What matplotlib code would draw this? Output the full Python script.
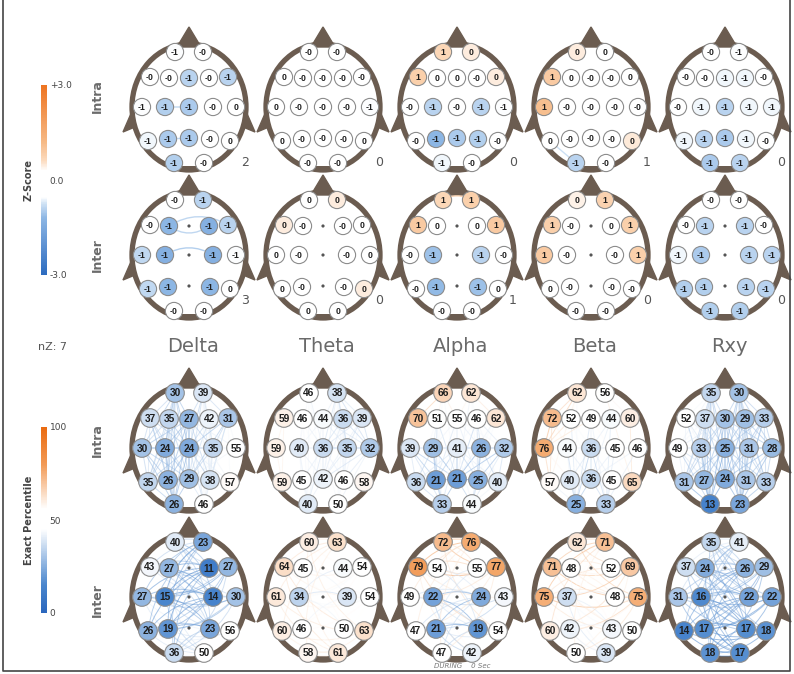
import numpy as np
import matplotlib
matplotlib.use("Agg")
import matplotlib.pyplot as plt
from matplotlib import font_manager
from matplotlib.cm import ScalarMappable
from matplotlib.colors import LinearSegmentedColormap, Normalize
from matplotlib.patches import Circle, Ellipse, Polygon, Rectangle, FancyArrowPatch

# ---------- data ----------
BANDS = ["Delta", "Theta", "Alpha", "Beta", "Rxy"]
SITES = ["Fp1", "Fp2", "F7", "F3", "Fz", "F4", "F8", "T3", "C3", "Cz", "C4",
         "T4", "T5", "P3", "Pz", "P4", "T6", "O1", "O2"]
nan = np.nan

# z-scores, intra-hemispheric (order of SITES)
z_intra_delta = [-0.55, -0.2, -0.2, -0.3, -0.9, -0.2, -0.9, -0.55, -0.95, -1.0,
                 -0.3, 0.2, -0.6, -1.0, -1.0, -0.3, 0.1, -0.95, -0.3]
z_intra_theta = [-0.2, -0.2, 0.2, -0.2, -0.2, -0.2, -0.2, 0.1, -0.2, -0.3,
                 -0.3, -0.55, 0.1, -0.2, -0.3, -0.2, 0.1, -0.2, -0.2]
z_intra_alpha = [0.7, 0.45, 0.8, 0.2, 0.2, -0.2, 0.45, -0.3, -0.9, -0.4,
                 -0.9, -0.55, -0.3, -1.2, -1.0, -0.95, -0.3, -0.6, -0.3]
z_intra_beta = [0.45, 0.2, 0.9, 0.2, -0.2, -0.2, 0.2, 1.1, -0.2, -0.2,
                -0.2, -0.2, 0.2, -0.2, -0.3, -0.2, 0.48, -0.9, -0.3]
z_intra_rxy = [-0.3, -0.55, -0.3, -0.4, -0.6, -0.6, -0.3, -0.4, -0.6, -0.9,
               -0.6, -0.6, -0.6, -0.9, -1.0, -0.6, -0.4, -1.0, -0.9]

# z-scores, inter-hemispheric (midline sites not used)
z_inter_delta = [-0.3, -0.9, -0.3, -1.2, nan, -1.35, -0.9, -0.85, -1.35, nan,
                 -1.35, -0.55, -0.85, -1.2, nan, -1.2, 0.2, -0.3, -0.3]
z_inter_theta = [0.2, 0.45, 0.45, -0.2, nan, -0.2, 0.2, 0.2, -0.2, nan,
                 -0.2, 0.2, 0.2, -0.2, nan, -0.2, 0.45, 0.2, 0.2]
z_inter_alpha = [0.7, 0.8, 0.9, 0.2, nan, 0.2, 0.9, -0.3, -1.1, nan,
                 -0.9, -0.3, -0.3, -1.15, nan, -1.1, 0.2, -0.3, -0.3]
z_inter_beta = [0.4, 0.75, 0.8, -0.2, nan, 0.2, 0.8, 0.9, -0.2, nan,
                -0.2, 0.8, 0.2, -0.2, nan, -0.2, -0.2, -0.2, -0.2]
z_inter_rxy = [-0.3, -0.3, -0.4, -0.9, nan, -0.9, -0.4, -0.6, -1.0, nan,
               -0.9, -0.9, -0.95, -0.95, nan, -0.9, -0.9, -0.95, -0.95]

# significant z-score links: (site, site, z)
zlinks_intra_delta = [("C3", "Cz", -0.9), ("P3", "Pz", -0.9)]
zlinks_intra_theta = []
zlinks_intra_alpha = []
zlinks_intra_beta = [("T5", "O1", -0.8)]
zlinks_intra_rxy = []
zlinks_inter_delta = [("F3", "F8", -0.9), ("F3", "F4", -0.9), ("C3", "C4", -1.0)]
zlinks_inter_theta = []
zlinks_inter_alpha = [("Fp1", "Fp2", 0.8)]
zlinks_inter_beta = []
zlinks_inter_rxy = []

# exact percentiles, intra-hemispheric
p_intra_delta = [30, 39, 37, 35, 27, 42, 31, 30, 24, 24, 35, 55, 35, 26, 29, 38, 57, 26, 46]
p_intra_theta = [46, 38, 59, 46, 44, 36, 39, 59, 40, 36, 35, 32, 59, 45, 42, 46, 58, 40, 50]
p_intra_alpha = [66, 62, 70, 51, 55, 46, 62, 39, 29, 41, 26, 32, 36, 21, 21, 25, 40, 33, 44]
p_intra_beta = [62, 56, 72, 52, 49, 44, 60, 76, 44, 36, 45, 46, 57, 40, 36, 45, 65, 25, 33]
p_intra_rxy = [35, 30, 52, 37, 30, 29, 33, 49, 33, 25, 31, 28, 31, 27, 24, 31, 33, 13, 23]

# exact percentiles, inter-hemispheric
p_inter_delta = [40, 23, 43, 27, nan, 11, 27, 27, 15, nan, 14, 30, 26, 19, nan, 23, 56, 36, 50]
p_inter_theta = [60, 63, 64, 45, nan, 44, 54, 61, 34, nan, 39, 54, 60, 46, nan, 50, 63, 58, 61]
p_inter_alpha = [72, 76, 79, 54, nan, 55, 77, 49, 22, nan, 24, 43, 47, 21, nan, 19, 54, 47, 42]
p_inter_beta = [62, 71, 71, 48, nan, 52, 69, 75, 37, nan, 48, 75, 60, 42, nan, 43, 50, 50, 39]
p_inter_rxy = [35, 41, 37, 24, nan, 26, 29, 31, 16, nan, 22, 22, 14, 17, nan, 17, 18, 18, 17]

# ---------- layout (pixel units, y down) ----------
W, H = 794, 674
HEAD_X = [189, 323, 457, 591, 725]
ROW_Y = [107, 255, 448, 597]
COUNT_DY = [55, 45]

MONTAGE = {
    "Fp1": (-14, -55), "Fp2": (14, -55),
    "F7": (-39, -30), "F3": (-20, -29), "Fz": (0, -29), "F4": (20, -29), "F8": (39, -30),
    "T3": (-47, 0), "C3": (-24, 0), "Cz": (0, 0), "C4": (24, 0), "T4": (47, 0),
    "T5": (-41, 34), "P3": (-21, 32), "Pz": (0, 31), "P4": (21, 32), "T6": (41, 34),
    "O1": (-15, 56), "O2": (15, 56),
}
LEFT = ["Fp1", "F7", "F3", "T3", "C3", "T5", "P3", "O1"]
RIGHT = ["Fp2", "F8", "F4", "T4", "C4", "T6", "P4", "O2"]
MID = ["Fz", "Cz", "Pz"]
Z_BEND = {("F3", "F4"): 0.35}

HEAD_COL = "#6b5c50"
TEXT_GRAY = "#6a6a6a"

available = {f.name for f in font_manager.fontManager.ttflist}
NUM_FONT = "Liberation Sans Narrow" if "Liberation Sans Narrow" in available else "Liberation Sans"

z_cmap = LinearSegmentedColormap.from_list("zscore", [
    (0.0, "#2c6bbf"), (0.3, "#8db6e4"), (0.38, "#d5e6f6"), (0.41, "#ffffff"),
    (0.55, "#ffffff"), (0.6, "#fcdcc0"), (0.7, "#f6b985"), (1.0, "#ee7420")])
p_cmap = LinearSegmentedColormap.from_list("pct", [
    (0.0, "#2a66bd"), (0.15, "#4a86cd"), (0.45, "#ffffff"), (0.56, "#ffffff"),
    (0.8, "#f29a55"), (1.0, "#ea6a10")])
z_norm = Normalize(-3, 3)
p_norm = Normalize(0, 100)


def pos(cx, cy, site):
    dx, dy = MONTAGE[site]
    return cx + dx, cy + dy


def draw_head(ax, cx, cy):
    ax.add_patch(Ellipse((cx, cy), 114, 126, fill=False, ec=HEAD_COL, lw=3.8, zorder=1))
    ax.add_patch(Polygon([(cx - 12, cy - 60), (cx, cy - 80), (cx + 12, cy - 60)],
                         closed=True, fc=HEAD_COL, ec=HEAD_COL, lw=1, zorder=1))
    # ears: thin fins flaring down and out
    for s in (-1, 1):
        ax.add_patch(Polygon([(cx + s * 56, cy + 2), (cx + s * 66, cy + 25),
                              (cx + s * 54, cy + 20)],
                             closed=True, fc=HEAD_COL, ec=HEAD_COL, lw=1, zorder=1))
    ax.add_patch(Rectangle((cx - 13, cy + 59), 26, 5, fc=HEAD_COL, ec="none", zorder=1))


def draw_link(ax, cx, cy, a, b, color, lw, alpha, rad):
    p1, p2 = pos(cx, cy, a), pos(cx, cy, b)
    ax.add_patch(FancyArrowPatch(p1, p2, arrowstyle="-", shrinkA=0, shrinkB=0,
                                 connectionstyle=f"arc3,rad={rad}",
                                 color=color, lw=lw, alpha=alpha, zorder=2))


def draw_nodes(ax, cx, cy, vals, cmap, norm, r, fsize):
    for site, v in zip(SITES, vals):
        x, y = pos(cx, cy, site)
        if np.isnan(v):
            ax.add_patch(Circle((x, y), 1.6, fc="#555555", ec="none", zorder=3))
            continue
        ax.add_patch(Circle((x, y), r, fc=cmap(norm(v)), ec="#8c8c8c", lw=0.8, zorder=3))
        ax.text(x, y + 0.5, f"{v:.0f}", ha="center", va="center", fontsize=fsize,
                fontweight="bold", family=NUM_FONT, color="#1e1e1e", zorder=4)


def pct_links(ax, cx, cy, vals, inter):
    v = dict(zip(SITES, vals))
    if inter:
        pairs = [(a, b) for a in LEFT for b in RIGHT]
    else:
        pairs = []
        for group in (LEFT + MID, RIGHT):
            for i, a in enumerate(group):
                for b in group[i + 1:]:
                    pairs.append((a, b))
        pairs += [(a, b) for a in RIGHT for b in MID]
    for k, (a, b) in enumerate(pairs):
        m = (v[a] + v[b]) / 2
        if abs(m - 50) < 6:
            continue
        rad = (0.22 if k % 2 else -0.22) if inter else 0.0
        draw_link(ax, cx, cy, a, b, p_cmap(p_norm(m)), 0.7, 0.55, rad)


fig = plt.figure(figsize=(W / 100, H / 100), dpi=100)
fig.patch.set_facecolor("white")
ax = fig.add_axes([0, 0, 1, 1])
ax.set_xlim(0, W)
ax.set_ylim(H, 0)
ax.axis("off")

z_rows = [
    [z_intra_delta, z_intra_theta, z_intra_alpha, z_intra_beta, z_intra_rxy],
    [z_inter_delta, z_inter_theta, z_inter_alpha, z_inter_beta, z_inter_rxy],
]
z_links = [
    [zlinks_intra_delta, zlinks_intra_theta, zlinks_intra_alpha, zlinks_intra_beta, zlinks_intra_rxy],
    [zlinks_inter_delta, zlinks_inter_theta, zlinks_inter_alpha, zlinks_inter_beta, zlinks_inter_rxy],
]
p_rows = [
    [p_intra_delta, p_intra_theta, p_intra_alpha, p_intra_beta, p_intra_rxy],
    [p_inter_delta, p_inter_theta, p_inter_alpha, p_inter_beta, p_inter_rxy],
]

n_total = 0
for r in range(2):
    cy = ROW_Y[r]
    for c, cx in enumerate(HEAD_X):
        draw_head(ax, cx, cy)
        links = z_links[r][c]
        for a, b, zv in links:
            rad = Z_BEND.get((a, b), -0.3) if r == 1 else 0.0
            draw_link(ax, cx, cy, a, b, z_cmap(z_norm(zv)), 1.0, 0.9, rad)
        draw_nodes(ax, cx, cy, z_rows[r][c], z_cmap, z_norm, 8.6, 6.2)
        ax.text(cx + 56, cy + COUNT_DY[r], str(len(links)), ha="center", va="center",
                fontsize=9, color="#555555")
        n_total += len(links)

for r in range(2):
    cy = ROW_Y[2 + r]
    for c, cx in enumerate(HEAD_X):
        draw_head(ax, cx, cy)
        pct_links(ax, cx, cy, p_rows[r][c], inter=(r == 1))
        draw_nodes(ax, cx, cy, p_rows[r][c], p_cmap, p_norm, 9.3, 7.3)

# band titles and counters
for band, cx in zip(BANDS, HEAD_X):
    ax.text(cx + 4, 347, band, ha="center", va="center", fontsize=14, color=TEXT_GRAY)
ax.text(52, 347, f"nZ: {n_total}", ha="center", va="center", fontsize=8, color="#555555")

for label, y in zip(["Intra", "Inter", "Intra", "Inter"], [96, 255, 440, 600]):
    ax.text(97, y, label, ha="center", va="center", rotation=90, fontsize=9,
            fontweight="bold", color=TEXT_GRAY)

ax.text(462, 666, "DURING    0 Sec", ha="center", va="center", fontsize=5,
        style="italic", color="#777777")

# frame
ax.plot([3, 3, 790, 790], [0, 671, 671, 0], color="#444444", lw=1.2, zorder=5)


def add_cbar(cmap, norm, y0, y1, ticks, ticklabels, label):
    cax = fig.add_axes([41 / W, 1 - y1 / H, 6 / W, (y1 - y0) / H])
    cb = fig.colorbar(ScalarMappable(norm=norm, cmap=cmap), cax=cax)
    cb.outline.set_visible(False)
    cb.set_ticks(ticks)
    cb.set_ticklabels(ticklabels)
    cax.tick_params(length=0, labelsize=6.5, labelcolor="#444444", pad=2)
    ax.text(29, (y0 + y1) / 2, label, ha="center", va="center", rotation=90,
            fontsize=7, fontweight="bold", color="#444444")


add_cbar(z_cmap, z_norm, 85, 275, [-3, 0, 3], ["-3.0", "0.0", "+3.0"], "Z-Score")
add_cbar(p_cmap, p_norm, 427, 613, [0, 50, 100], ["0", "50", "100"], "Exact Percentile")

fig.savefig("out.png", dpi=100, facecolor="white")
